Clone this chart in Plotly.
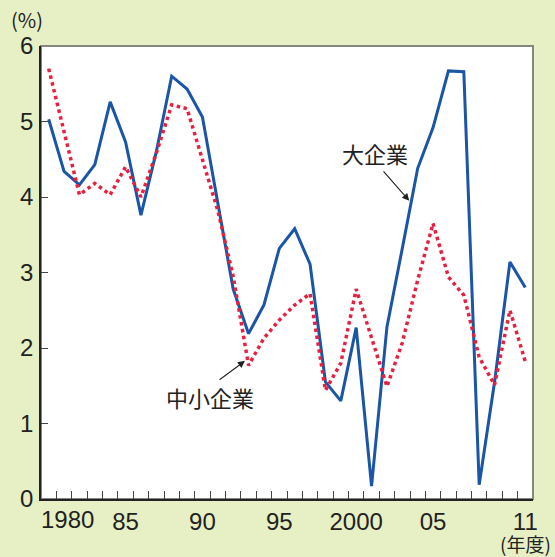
import plotly.graph_objects as go

years = list(range(1980, 2012))
large = [5.03, 4.34, 4.16, 4.43, 5.26, 4.73, 3.76, 4.60, 5.60, 5.43,
         5.06, 3.92, 2.78, 2.19, 2.57, 3.32, 3.58, 3.11, 1.55, 1.30,
         2.27, 0.17, 2.28, 3.32, 4.38, 4.92, 5.67, 5.66, 0.19, 1.55,
         3.14, 2.80]
small = [5.70, 4.87, 4.03, 4.18, 4.03, 4.40, 4.00, 4.58, 5.22, 5.17,
         4.50, 3.82, 2.95, 1.77, 2.13, 2.37, 2.57, 2.72, 1.44, 1.80,
         2.78, 2.15, 1.49, 2.07, 2.90, 3.65, 2.94, 2.70, 1.88, 1.51,
         2.50, 1.82]
tick_vals = [1985, 1990, 1995, 2000, 2005, 2011]
tick_text = ["85", "90", "95", "2000", "05", "11"]
minor_ticks = [y + 0.5 for y in range(1980, 2011)]

BG = "#e6f0c4"
BLUE = "#1a55a6"
RED = "#e8203f"
NUM_FONT = "Liberation Sans, Arial, sans-serif"
JP_FONT = "Noto Sans CJK JP, sans-serif"

W, H = 555, 557
ML, MR, MT, MB = 41, 22, 46, 58

fig = go.Figure()
fig.add_trace(go.Scatter(x=years, y=large, mode="lines", name="大企業",
                         line=dict(color=BLUE, width=3)))
fig.add_trace(go.Scatter(x=years, y=small, mode="lines", name="中小企業",
                         line=dict(color=RED, width=3.5, dash="dot")))

fig.update_layout(
    width=W, height=H,
    paper_bgcolor=BG, plot_bgcolor="white",
    margin=dict(l=ML, r=MR, t=MT, b=MB, autoexpand=False),
    showlegend=False,
    font=dict(family=NUM_FONT, size=24, color="#222"),
)
fig.update_xaxes(
    range=[1979.5, 2011.5], tickvals=tick_vals, ticktext=tick_text,
    ticks="", showgrid=False, zeroline=False, automargin=False,
    showline=True, linecolor="#222", linewidth=1.5,
    ticklabelstandoff=0,
    minor=dict(tickvals=minor_ticks, ticks="inside", ticklen=8,
               tickcolor="#444", tickwidth=1.2, showgrid=False),
    tickfont=dict(size=24, family=NUM_FONT, color="#222"),
)
fig.update_yaxes(
    range=[0, 6], tickvals=[0, 1, 2, 3, 4, 5, 6],
    ticks="inside", ticklen=7, tickcolor="#444", tickwidth=1.2,
    showgrid=False, zeroline=False, automargin=False,
    showline=True, linecolor="#222", linewidth=1.5,
    ticklabelstandoff=1,
    tickfont=dict(size=24, family=NUM_FONT, color="#222"),
)

# frame (top/right gray)
fig.add_shape(type="rect", xref="paper", yref="paper", x0=0, x1=1, y0=0, y1=1,
              line=dict(color="#858585", width=2), layer="below")

# 1980 label
fig.add_annotation(x=1980, y=0, xref="x", yref="y", text="1980", showarrow=False,
                   xanchor="left", yanchor="top", xshift=-10, yshift=-5,
                   font=dict(size=24, family=NUM_FONT, color="#222"))

# series labels with arrows
fig.add_annotation(x=2001.22, y=4.58, xref="x", yref="y", text="大企業", showarrow=False,
                   xanchor="center", yanchor="middle",
                   font=dict(size=22, family=JP_FONT, color="#222"))
fig.add_annotation(x=2003.45, y=3.95, xref="x", yref="y", text="", showarrow=True,
                   ax=-27, ay=-31, arrowhead=2, arrowsize=1.3, arrowwidth=1.1,
                   arrowcolor="#222")
fig.add_annotation(x=1990.49, y=1.35, xref="x", yref="y", text="中小企業", showarrow=False,
                   xanchor="center", yanchor="middle",
                   font=dict(size=22, family=JP_FONT, color="#222"))
fig.add_annotation(x=1992.77, y=1.83, xref="x", yref="y", text="", showarrow=True,
                   ax=-27, ay=20, arrowhead=2, arrowsize=1.3, arrowwidth=1.1,
                   arrowcolor="#222")

# unit labels (pixel positions converted to paper coordinates)
pw, ph = W - ML - MR, H - MT - MB
def px(xp, yp):
    return (xp - ML) / pw, ((H - yp) - MB) / ph

ux, uy = px(27, 20)
fig.add_annotation(x=ux, y=uy, xref="paper", yref="paper", text="(%)", showarrow=False,
                   xanchor="center", yanchor="middle",
                   font=dict(size=20, family=JP_FONT, color="#222"))
vx, vy = px(525, 543)
fig.add_annotation(x=vx, y=vy, xref="paper", yref="paper", text="(年度)", showarrow=False,
                   xanchor="center", yanchor="middle",
                   font=dict(size=19, family=JP_FONT, color="#222"))

fig.write_html("out.html", config={"displayModeBar": False},
               post_script="document.body.style.margin='0';document.body.style.overflow='hidden';")
